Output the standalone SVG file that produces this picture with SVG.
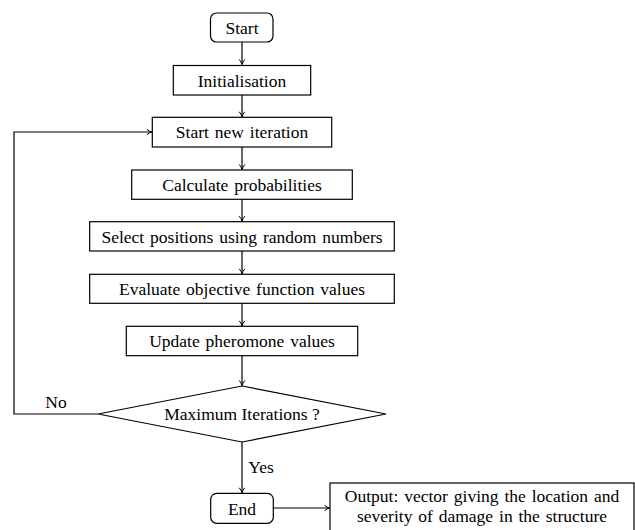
<svg xmlns="http://www.w3.org/2000/svg" width="635" height="530" viewBox="0 0 635 530" font-family="'Liberation Serif', 'Times New Roman', Times, serif">
<style>
.box{fill:#fff;stroke:#000;stroke-width:1.2}
.t{font-family:'Liberation Serif','Times New Roman',Times,serif;font-size:17.5px;fill:#000;text-anchor:middle;word-spacing:1.5px}
.c{fill:none;stroke:#000;stroke-width:1.2;marker-end:url(#ah)}
</style>
<defs>
<marker id="ah" markerWidth="8" markerHeight="8" refX="6" refY="4" orient="auto" markerUnits="userSpaceOnUse">
<path d="M1,1.2 Q3.5,3.4 6,4 Q3.5,4.6 1,6.8" fill="none" stroke="#000" stroke-width="1"/>
</marker>
</defs>
<rect width="635" height="530" fill="#fff"/>
<g id="connectors">
<path class="c" d="M242,42 V64.5"/>
<path class="c" d="M242,95 V116.8"/>
<path class="c" d="M242,147 V169.5"/>
<path class="c" d="M242,199.3 V221.2"/>
<path class="c" d="M242,251 V273.8"/>
<path class="c" d="M242,303.3 V325.8"/>
<path class="c" d="M242,355.7 V385.5"/>
<path class="c" d="M98,414 H14 V132 H151.8"/>
<path class="c" d="M242,442 V492.8"/>
<path class="c" d="M273.3,508 H329.5"/>
<text class="t" x="56" y="408">No</text>
<text class="t" x="261" y="473">Yes</text>
</g>
<g id="start"><rect class="box" x="210.5" y="13" width="62.5" height="29" rx="6"/><text class="t" x="242" y="34">Start</text></g>
<g id="init"><rect class="box" x="173.3" y="65.5" width="137.4" height="29.5"/><text class="t" x="242" y="86.5">Initialisation</text></g>
<g id="newiter"><rect class="box" x="152.3" y="117.3" width="179.4" height="29.7"/><text class="t" x="242" y="138.3">Start new iteration</text></g>
<g id="calc"><rect class="box" x="131.7" y="170" width="220.6" height="29.3"/><text class="t" x="242" y="190.8">Calculate probabilities</text></g>
<g id="select"><rect class="box" x="89.7" y="221.7" width="304.6" height="29.3"/><text class="t" x="242" y="242.5">Select positions using random numbers</text></g>
<g id="evaluate"><rect class="box" x="89.7" y="274.3" width="304.6" height="29"/><text class="t" x="242" y="295">Evaluate objective function values</text></g>
<g id="update"><rect class="box" x="126.3" y="326.3" width="231.4" height="29.4"/><text class="t" x="242" y="347">Update pheromone values</text></g>
<g id="decision"><polygon class="box" points="242,386 386,414 242,442 98,414"/><text class="t" x="242" y="420" style="word-spacing:0">Maximum Iterations ?</text></g>
<g id="end"><rect class="box" x="210.7" y="493.3" width="62.6" height="30" rx="6"/><text class="t" x="242" y="514.5">End</text></g>
<g id="output"><rect class="box" x="330" y="483" width="304" height="52"/><text class="t" x="482" y="502">Output:  vector giving the location and</text><text class="t" x="482" y="522">severity of damage in the structure</text></g>
</svg>
